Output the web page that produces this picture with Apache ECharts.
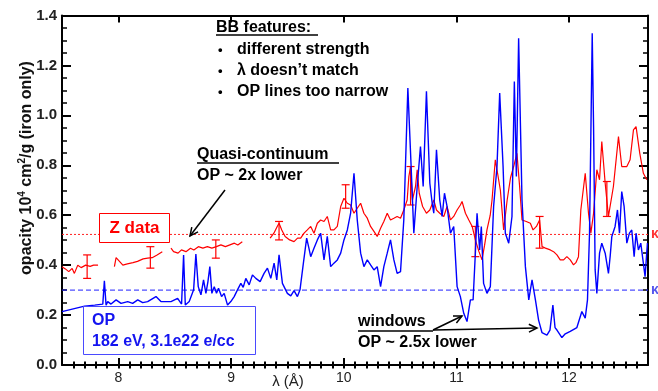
<!DOCTYPE html>
<html><head><meta charset="utf-8">
<script src="https://cdn.jsdelivr.net/npm/echarts@6/dist/echarts.min.js"></script>
<style>html,body{margin:0;padding:0;background:#fff}#c{width:658px;height:391px}</style>
</head><body><div id="c"></div>
<script>
// ---- axes ----
const xMin = 7.5, xMax = 12.7;
const xMajorTicks = [8, 9, 10, 11, 12];
const yMin = 0, yMax = 1.4, yStep = 0.2;
const xMinorTicks = [];
for (let i = 76; i <= 126; i++) xMinorTicks.push(i / 10);

// ---- reference levels ----
const zReference = 0.523;
const opReference = 0.30;

// ---- OP calculation (blue) [lambda (A), opacity] ----
const opCurve = [[7.5,0.214],[7.70,0.236],[7.79,0.240],[7.862,0.244],[7.876,0.337],[7.891,0.240],[7.906,0.254],[7.935,0.244],[7.98,0.261],[8.024,0.247],[8.083,0.254],[8.127,0.247],[8.172,0.261],[8.216,0.250],[8.26,0.254],[8.334,0.274],[8.378,0.254],[8.467,0.254],[8.526,0.267],[8.561,0.244],[8.579,0.441],[8.594,0.240],[8.629,0.254],[8.668,0.301],[8.688,0.444],[8.709,0.314],[8.733,0.281],[8.756,0.341],[8.777,0.287],[8.795,0.334],[8.812,0.394],[8.830,0.287],[8.851,0.314],[8.871,0.287],[8.889,0.307],[8.916,0.274],[8.939,0.287],[8.969,0.240],[8.998,0.254],[9.028,0.274],[9.057,0.301],[9.087,0.327],[9.108,0.311],[9.131,0.347],[9.161,0.321],[9.190,0.361],[9.220,0.347],[9.258,0.334],[9.293,0.367],[9.323,0.388],[9.353,0.347],[9.382,0.408],[9.406,0.341],[9.426,0.441],[9.456,0.327],[9.500,0.287],[9.530,0.277],[9.559,0.298],[9.589,0.274],[9.612,0.301],[9.642,0.408],[9.671,0.508],[9.69,0.47],[9.707,0.434],[9.736,0.468],[9.766,0.501],[9.795,0.528],[9.825,0.421],[9.854,0.515],[9.884,0.394],[9.913,0.408],[9.943,0.421],[9.973,0.448],[10.002,0.501],[10.032,0.541],[10.061,0.608],[10.091,0.768],[10.12,0.581],[10.15,0.448],[10.179,0.394],[10.209,0.421],[10.238,0.401],[10.268,0.381],[10.297,0.394],[10.327,0.314],[10.356,0.394],[10.386,0.448],[10.415,0.501],[10.445,0.421],[10.474,0.367],[10.504,0.374],[10.533,0.581],[10.569,1.109],[10.598,0.795],[10.622,0.528],[10.652,0.715],[10.681,0.875],[10.705,0.715],[10.734,1.096],[10.764,0.728],[10.785,0.648],[10.799,0.608],[10.823,0.862],[10.852,0.661],[10.873,0.595],[10.894,0.688],[10.917,0.635],[10.947,0.528],[10.976,0.555],[11.006,0.314],[11.035,0.274],[11.065,0.207],[11.094,0.174],[11.124,0.261],[11.148,0.261],[11.168,0.448],[11.183,0.608],[11.206,0.461],[11.221,0.555],[11.241,0.327],[11.271,0.287],[11.301,0.314],[11.330,0.635],[11.360,0.795],[11.384,1.089],[11.414,0.795],[11.434,0.528],[11.464,0.488],[11.493,0.595],[11.514,1.136],[11.532,0.755],[11.552,1.309],[11.582,0.661],[11.612,0.394],[11.642,0.261],[11.671,0.341],[11.701,0.261],[11.729,0.180],[11.759,0.130],[11.803,0.120],[11.830,0.140],[11.856,0.240],[11.875,0.150],[11.892,0.140],[11.936,0.110],[11.966,0.125],[12.010,0.135],[12.069,0.150],[12.113,0.214],[12.143,0.188],[12.163,0.261],[12.181,0.528],[12.205,1.329],[12.217,0.955],[12.231,0.381],[12.246,0.287],[12.270,0.448],[12.290,0.488],[12.320,0.448],[12.349,0.367],[12.364,0.434],[12.379,0.515],[12.408,0.555],[12.429,0.621],[12.447,0.528],[12.467,0.695],[12.488,0.635],[12.512,0.488],[12.535,0.528],[12.556,0.541],[12.577,0.434],[12.594,0.528],[12.615,0.461],[12.636,0.488],[12.659,0.407],[12.674,0.354],[12.695,0.488]];

// ---- Z data (red), four measured segments ----
const zSegment1 = [[7.5,0.394],[7.53,0.385],[7.56,0.374],[7.59,0.387],[7.61,0.367],[7.64,0.40],[7.67,0.39],[7.71,0.40],[7.75,0.395],[7.78,0.40],[7.82,0.40]];
const zSegment2 = [[7.965,0.394],[7.98,0.43],[8.01,0.415],[8.04,0.40],[8.08,0.405],[8.13,0.41],[8.17,0.415],[8.22,0.425],[8.26,0.428],[8.30,0.43],[8.34,0.44],[8.39,0.454]];
const zSegment3 = [[8.467,0.468],[8.49,0.454],[8.53,0.448],[8.56,0.461],[8.60,0.454],[8.64,0.468],[8.67,0.461],[8.71,0.474],[8.75,0.468],[8.79,0.474],[8.83,0.468],[8.87,0.474],[8.91,0.481],[8.95,0.474],[8.99,0.481],[9.03,0.488],[9.06,0.481],[9.10,0.494]];
const zSegment4 = [[9.347,0.508],[9.38,0.528],[9.41,0.555],[9.426,0.568],[9.45,0.541],[9.48,0.515],[9.52,0.501],[9.559,0.494],[9.59,0.508],[9.618,0.508],[9.648,0.528],[9.677,0.541],[9.707,0.555],[9.736,0.528],[9.766,0.568],[9.795,0.581],[9.825,0.575],[9.854,0.595],[9.884,0.541],[9.913,0.541],[9.943,0.555],[9.973,0.635],[10.002,0.668],[10.032,0.648],[10.061,0.641],[10.091,0.608],[10.12,0.628],[10.15,0.648],[10.179,0.608],[10.209,0.588],[10.238,0.555],[10.268,0.535],[10.297,0.515],[10.327,0.548],[10.356,0.575],[10.386,0.608],[10.415,0.581],[10.445,0.588],[10.474,0.595],[10.504,0.588],[10.533,0.621],[10.563,0.661],[10.578,0.755],[10.593,0.795],[10.61,0.661],[10.637,0.715],[10.652,0.782],[10.67,0.688],[10.70,0.635],[10.734,0.608],[10.764,0.621],[10.799,0.661],[10.823,0.621],[10.852,0.608],[10.888,0.595],[10.917,0.635],[10.947,0.581],[10.976,0.595],[11.006,0.621],[11.035,0.641],[11.05,0.655],[11.08,0.608],[11.11,0.581],[11.14,0.555],[11.168,0.501],[11.20,0.454],[11.227,0.421],[11.25,0.48],[11.271,0.541],[11.30,0.60],[11.316,0.661],[11.345,0.822],[11.37,0.755],[11.39,0.70],[11.419,0.541],[11.45,0.66],[11.48,0.75],[11.508,0.795],[11.537,0.848],[11.56,0.72],[11.582,0.581],[11.62,0.575],[11.656,0.568],[11.68,0.541],[11.71,0.555],[11.738,0.581],[11.76,0.474],[11.79,0.468],[11.833,0.461],[11.862,0.454],[11.892,0.441],[11.921,0.421],[11.951,0.421],[11.98,0.434],[12.01,0.421],[12.039,0.401],[12.06,0.41],[12.083,0.434],[12.104,0.621],[12.143,0.768],[12.172,0.608],[12.193,0.528],[12.217,0.608],[12.246,0.782],[12.27,0.742],[12.29,0.895],[12.32,0.728],[12.349,0.595],[12.364,0.588],[12.393,0.715],[12.438,0.915],[12.467,0.795],[12.512,0.795],[12.541,0.822],[12.571,0.942],[12.594,0.955],[12.627,0.848],[12.659,0.768],[12.689,0.742]];

// ---- Z data error bars [lambda, low, high] ----
const zErrorBars = [[7.723,0.347,0.441],[8.284,0.388,0.474],[8.865,0.428,0.501],[9.426,0.501,0.575],[10.017,0.628,0.722],[10.593,0.641,0.795],[11.168,0.434,0.555],[11.738,0.468,0.595],[12.335,0.595,0.735]];

const FONT = '"Liberation Sans", Arial, sans-serif';
const RED = '#ff0000', BLUE = '#0000ff';

const chart = echarts.init(document.getElementById('c'), null, {renderer: 'canvas'});
const axisLine = {show: true, onZero: false, lineStyle: {color: '#000', width: 2}};
function xAx(pos, ticks, len, label) {
  return {
    type: 'value', min: xMin, max: xMax, position: pos,
    axisLine: label === null ? {show: false} : axisLine,
    axisTick: {show: true, inside: true, length: len, customValues: ticks, lineStyle: {color: '#000', width: 2}},
    axisLabel: label ? {show: true, customValues: xMajorTicks, fontSize: 14, color: '#222', margin: 6, fontFamily: FONT} : {show: false},
    splitLine: {show: false}
  };
}
function yAx(pos, label) {
  return {
    type: 'value', min: yMin, max: yMax, interval: yStep, position: pos,
    axisLine: axisLine,
    axisTick: {show: true, inside: true, length: 9, lineStyle: {color: '#000', width: 2}},
    minorTick: {show: true, splitNumber: 4, length: 5, lineStyle: {color: '#000', width: 1.5}},
    axisLabel: label ? {show: true, fontSize: 15, fontWeight: 'bold', color: '#222', margin: 5, fontFamily: FONT, formatter: v => v.toFixed(1)} : {show: false},
    splitLine: {show: false}, minorSplitLine: {show: false}
  };
}
function zLine(data) {
  return {type: 'line', data: data, symbol: 'none', showSymbol: false, xAxisIndex: 0, yAxisIndex: 0,
    lineStyle: {color: RED, width: 1.2}, itemStyle: {color: RED}, z: 3, animation: false};
}
function refLine(level, color, dash, z) {
  return {type: 'line', data: [[xMin, level], [xMax, level]], symbol: 'none', showSymbol: false, silent: true,
    lineStyle: {color: color, width: 1, type: dash}, itemStyle: {color: color}, z: z};
}
function txt(x, y, text, opt) {
  opt = opt || {};
  return {type: 'text', x: x, y: y, z: 100, style: {
    text: text, fill: opt.color || '#000', font: (opt.weight || 'bold') + ' ' + (opt.size || 16) + 'px ' + FONT,
    align: opt.align || 'left', textAlign: opt.align || 'left', verticalAlign: 'middle', textVerticalAlign: 'middle'}};
}
function hline(x1, x2, y, color) {
  return {type: 'line', z: 100, shape: {x1: x1, y1: y, x2: x2, y2: y}, style: {stroke: color || '#000', lineWidth: 1.5}};
}
function arrow(x1, y1, x2, y2) {
  const ang = Math.atan2(y2 - y1, x2 - x1), L = 9, a = 0.45;
  return [
    {type: 'line', z: 100, shape: {x1: x1, y1: y1, x2: x2, y2: y2}, style: {stroke: '#000', lineWidth: 1.5}},
    {type: 'polyline', z: 100, shape: {points: [[x2 - L * Math.cos(ang - a), y2 - L * Math.sin(ang - a)], [x2, y2], [x2 - L * Math.cos(ang + a), y2 - L * Math.sin(ang + a)]]}, style: {stroke: '#000', fill: null, lineWidth: 1.5}}
  ];
}

const graphics = [].concat(
  [txt(216, 28, 'BB features:'), hline(216, 318, 35),
   txt(218, 50, '•', {size: 13}), txt(237, 50, 'different strength'),
   txt(218, 71, '•', {size: 13}), txt(237, 71, 'λ doesn’t match'),
   txt(218, 92, '•', {size: 13}), txt(237, 92, 'OP lines too narrow'),
   txt(197, 155, 'Quasi-continuum'), hline(197, 339, 163),
   txt(197, 176, 'OP ~ 2x lower')],
  arrow(225, 190, 190, 236),
  [{type: 'rect', z: 90, shape: {x: 99.5, y: 213.5, width: 70, height: 29}, style: {fill: '#fff', stroke: RED, lineWidth: 1}},
   txt(134.5, 228, 'Z data', {color: RED, size: 17, align: 'center'}),
   {type: 'rect', z: 90, shape: {x: 83.5, y: 306.5, width: 172, height: 48}, style: {fill: '#fff', stroke: '#4a4aff', lineWidth: 1}},
   txt(92, 321, 'OP', {color: '#1414f0', size: 16}),
   txt(92, 342, '182 eV, 3.1e22 e/cc', {color: '#1414f0', size: 16}),
   txt(358, 322, 'windows'), hline(358, 433, 331),
   txt(358, 343, 'OP ~ 2.5x lower')],
  arrow(433, 330, 462, 316),
  arrow(433, 330, 537, 328),
  [txt(651, 234, 'κ', {color: '#ff3333', size: 14}),
   txt(651, 290, 'κ', {color: '#5555ee', size: 14}),
   txt(288, 382, 'λ (Å)', {weight: 'normal', size: 15, align: 'center', color: '#222'}),
   {type: 'text', x: 27, y: 168, rotation: Math.PI / 2, z: 100, style: {
     text: '{a|opacity 10}{s|4}{a| cm}{s|2}{a|/g (iron only)}',
     align: 'center', textAlign: 'center', verticalAlign: 'middle', textVerticalAlign: 'middle',
     rich: {
       a: {fontSize: 16, fontWeight: 'bold', fontFamily: FONT, fill: '#111', color: '#111', lineHeight: 20},
       s: {fontSize: 10, fontWeight: 'bold', fontFamily: FONT, fill: '#111', color: '#111', lineHeight: 12, verticalAlign: 'top'}
     }}}]
);

chart.setOption({
  animation: false,
  backgroundColor: '#fff',
  grid: {left: 62, right: 10, top: 15.5, bottom: 26, containLabel: false},
  xAxis: [xAx('bottom', xMajorTicks, 7, true), xAx('bottom', xMinorTicks, 3.5, null),
          xAx('top', xMajorTicks, 7, false), xAx('top', xMinorTicks, 3.5, null)],
  yAxis: [yAx('left', true), yAx('right', false)],
  series: [
    refLine(zReference, '#ff2020', [2, 2], 2),
    refLine(opReference, '#2020ff', [5, 3], 2),
    zLine(zSegment1), zLine(zSegment2), zLine(zSegment3), zLine(zSegment4),
    {type: 'custom', data: zErrorBars, z: 3, encode: {x: 0, y: [1, 2]},
     renderItem: function (params, api) {
       const x = api.value(0);
       const p1 = api.coord([x, api.value(1)]), p2 = api.coord([x, api.value(2)]);
       const w = 4, st = {stroke: RED, lineWidth: 1.2};
       return {type: 'group', children: [
         {type: 'line', shape: {x1: p1[0], y1: p1[1], x2: p2[0], y2: p2[1]}, style: st},
         {type: 'line', shape: {x1: p1[0] - w, y1: p1[1], x2: p1[0] + w, y2: p1[1]}, style: st},
         {type: 'line', shape: {x1: p2[0] - w, y1: p2[1], x2: p2[0] + w, y2: p2[1]}, style: st}]};
     }},
    {type: 'line', data: opCurve, symbol: 'none', showSymbol: false, z: 4,
     lineStyle: {color: BLUE, width: 1.4}, itemStyle: {color: BLUE}}
  ],
  graphic: graphics
});
</script>
</body></html>
